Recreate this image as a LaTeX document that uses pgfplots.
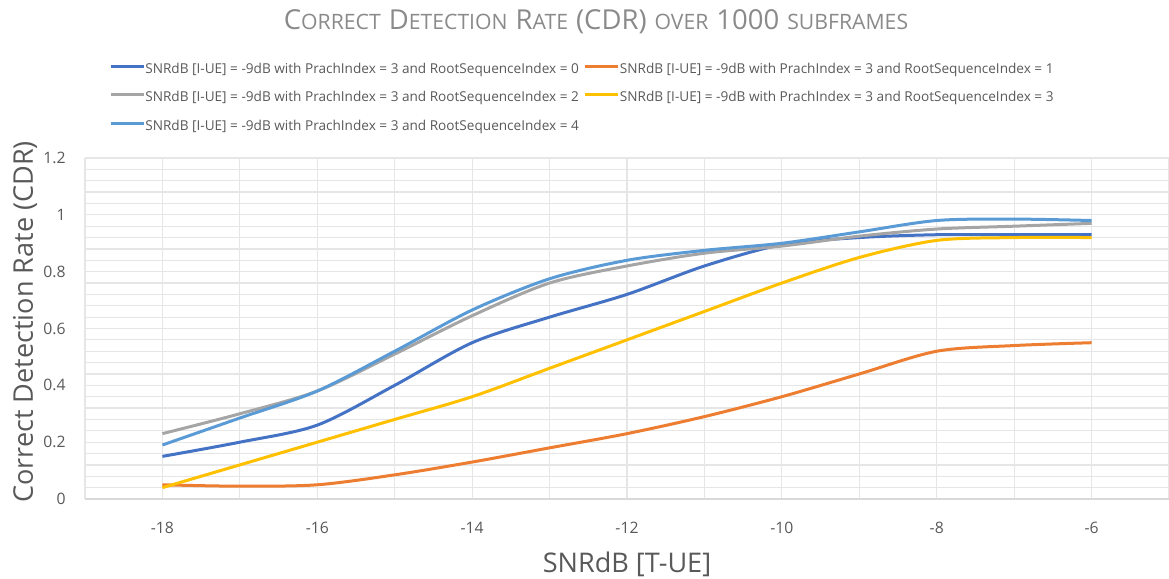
\documentclass[border=0pt]{standalone}
\usepackage{pgfplots}
\pgfplotsset{compat=1.18}
\usepackage{fontspec}
\setmainfont{Open Sans}
\definecolor{c0}{HTML}{4472C4}
\definecolor{c1}{HTML}{ED7D31}
\definecolor{c2}{HTML}{A5A5A5}
\definecolor{c3}{HTML}{FFC000}
\definecolor{c4}{HTML}{5B9BD5}
\definecolor{gridc}{HTML}{E6E6E6}
\definecolor{axc}{HTML}{D9D9D9}
\definecolor{txt}{HTML}{595959}
\definecolor{ttl}{HTML}{8A8A8A}
\newcommand{\TBig}[1]{{\fontsize{20.6}{24}\selectfont #1}}
\newcommand{\TSm}[1]{{\fontsize{15.9}{18}\selectfont #1}}
\newcommand{\TS}{\hspace{6pt}}
\begin{document}
\begin{tikzpicture}
\useasboundingbox (0,0) rectangle (876.75pt,433.5pt);
\begin{axis}[
  at={(63.75pt,59.25pt)}, anchor=south west,
  scale only axis, width=813pt, height=255.75pt,
  xmin=-19, xmax=-5, ymin=0, ymax=1.2,
  xtick={-18,-16,...,-6},
  minor xtick={-19,-18,...,-5},
  ytick={0,0.2,...,1.2},
  minor ytick={0.04,0.08,...,1.2},
  yticklabels={0,0.2,0.4,0.6,0.8,1,1.2},
  grid=both,
  major grid style={gridc, line width=0.9pt},
  minor grid style={gridc, line width=0.9pt},
  major tick length=0pt, minor tick length=0pt,
  axis x line*=bottom,
  x axis line style={draw=axc, line width=0.9pt, -},
  axis y line*=left,
  y axis line style={draw=none, -},
  tick label style={font=\fontsize{11.8}{13}\selectfont, text=txt},
  /pgf/number format/assume math mode=true,
  xticklabel style={yshift=-14pt},
  yticklabel style={xshift=-11pt},
  legend columns=2,
  legend cell align=left,
  legend style={draw=none, fill=none, at={(axis description cs:0.0185,1.286)}, anchor=north west,
    font=\fontsize{10.2}{11}\selectfont, text=txt,
    nodes={inner sep=0pt, text height=7.5pt, text depth=2pt},
    row sep=11.8pt,
    /tikz/every even column/.append style={column sep=3.8pt},
    /tikz/every odd column/.append style={column sep=0pt}},
  legend image code/.code={\draw[#1, line width=2.25pt] (0pt,2.5pt) -- (24.75pt,2.5pt);},
  every axis plot/.append style={line width=2.25pt, smooth, no markers},
]
\addplot[c0] coordinates {(-18,0.15) (-17,0.20) (-16,0.26) (-15,0.40) (-14,0.55) (-13,0.64) (-12,0.72) (-11,0.82) (-10,0.895) (-9,0.92) (-8,0.93) (-7,0.93) (-6,0.93)};
\addlegendentry{SNRdB [I-UE] = -9dB with PrachIndex = 3 and RootSequenceIndex = 0}
\addplot[c1] coordinates {(-18,0.05) (-17,0.045) (-16,0.05) (-15,0.085) (-14,0.13) (-13,0.18) (-12,0.23) (-11,0.29) (-10,0.36) (-9,0.44) (-8,0.52) (-7,0.54) (-6,0.55)};
\addlegendentry{SNRdB [I-UE] = -9dB with PrachIndex = 3 and RootSequenceIndex = 1}
\addplot[c2] coordinates {(-18,0.23) (-17,0.30) (-16,0.38) (-15,0.51) (-14,0.645) (-13,0.76) (-12,0.82) (-11,0.865) (-10,0.89) (-9,0.925) (-8,0.95) (-7,0.96) (-6,0.97)};
\addlegendentry{SNRdB [I-UE] = -9dB with PrachIndex = 3 and RootSequenceIndex = 2}
\addplot[c3] coordinates {(-18,0.04) (-17,0.12) (-16,0.20) (-15,0.28) (-14,0.36) (-13,0.46) (-12,0.56) (-11,0.66) (-10,0.76) (-9,0.85) (-8,0.91) (-7,0.92) (-6,0.92)};
\addlegendentry{SNRdB [I-UE] = -9dB with PrachIndex = 3 and RootSequenceIndex = 3}
\addplot[c4] coordinates {(-18,0.19) (-17,0.285) (-16,0.38) (-15,0.52) (-14,0.665) (-13,0.775) (-12,0.84) (-11,0.875) (-10,0.90) (-9,0.94) (-8,0.98) (-7,0.985) (-6,0.98)};
\addlegendentry{SNRdB [I-UE] = -9dB with PrachIndex = 3 and RootSequenceIndex = 4}
\end{axis}
\node[text=ttl, inner sep=0pt] at (447pt,417pt) {\TBig{C}\TSm{ORRECT}\TS\TBig{D}\TSm{ETECTION}\TS\TBig{R}\TSm{ATE}\TS\TBig{(CDR)}\TS\TSm{OVER}\TS\TBig{1000}\TS\TSm{SUBFRAMES}};
\node[text=txt, inner sep=0pt, font=\fontsize{20.3}{22}\selectfont] at (470.25pt,10.5pt) {SNRdB [T-UE]};
\node[text=txt, inner sep=0pt, rotate=90, font=\fontsize{20.3}{22}\selectfont] at (18.75pt,192pt) {Correct Detection Rate (CDR)};
\end{tikzpicture}
\end{document}
